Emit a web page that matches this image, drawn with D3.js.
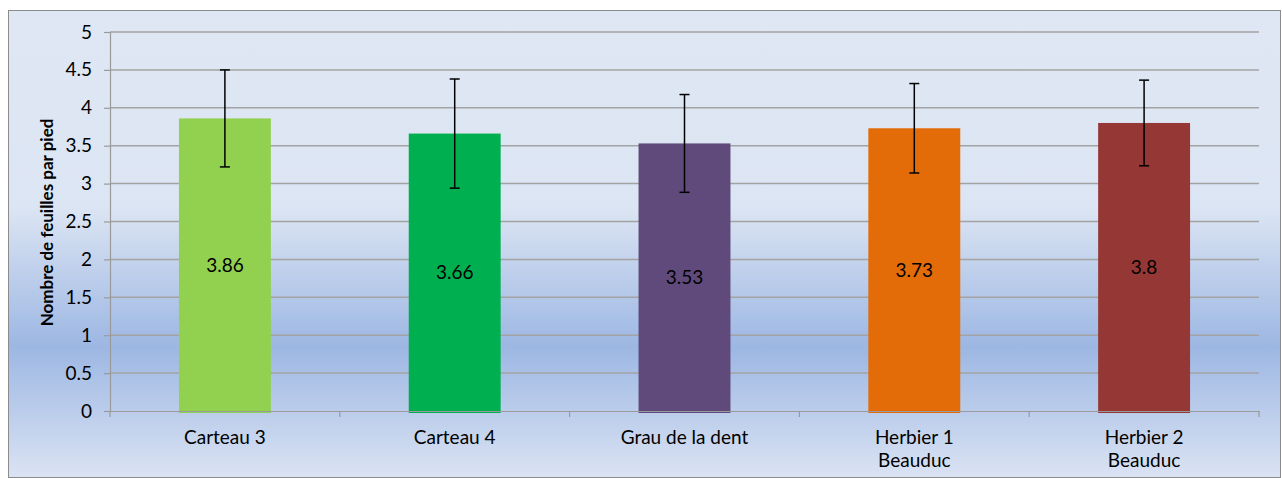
<!DOCTYPE html>
<html>
<head>
<meta charset="utf-8">
<script src="https://cdn.jsdelivr.net/npm/d3@7"></script>
<style>
body { margin: 0; background: #fff; }
text { font-family: Lato, "Open Sans", "Liberation Sans", sans-serif; fill: #000; }
</style>
</head>
<body>
<svg id="chart"></svg>
<script>
// données : nombre de feuilles par pied
const sites = ["Carteau 3", "Carteau 4", "Grau de la dent", "Herbier 1\nBeauduc", "Herbier 2\nBeauduc"];
const moyennes = [3.86, 3.66, 3.53, 3.73, 3.8];
const ecarts = [0.64, 0.72, 0.645, 0.59, 0.565];
const couleurs = ["#92d050", "#00b050", "#604a7b", "#e36c09", "#953735"];
const yTicks = [0, 0.5, 1, 1.5, 2, 2.5, 3, 3.5, 4, 4.5, 5];

const W = 1282, H = 478;
const margin = {top: 32, right: 23, bottom: 67, left: 110};
const width = W - margin.left - margin.right,
      height = H - margin.top - margin.bottom;

const svg = d3.select("#chart").attr("width", W).attr("height", H);

// fond dégradé
const defs = svg.append("defs");
const grad = defs.append("linearGradient").attr("id", "fond")
    .attr("x1", 0).attr("y1", 0).attr("x2", 0).attr("y2", 1);
grad.append("stop").attr("offset", "0%").attr("stop-color", "#dfe7f4");
grad.append("stop").attr("offset", "42%").attr("stop-color", "#dce5f3");
grad.append("stop").attr("offset", "72%").attr("stop-color", "#9db7e3");
grad.append("stop").attr("offset", "100%").attr("stop-color", "#dae3f3");

svg.append("rect")
    .attr("x", 8.5).attr("y", 10.5)
    .attr("width", W - 10).attr("height", H - 11)
    .attr("fill", "url(#fond)")
    .attr("stroke", "#8c8c8c").attr("stroke-width", 1);

const g = svg.append("g").attr("transform", `translate(${margin.left},${margin.top})`);

const x = d3.scaleBand().domain(sites).range([0, width]).paddingInner(0.6).paddingOuter(0.3);
const xCat = d3.scaleBand().domain(sites).range([0, width]);
const y = d3.scaleLinear().domain([0, 5]).range([height, 0]);

// grille
g.selectAll(".grid").data(yTicks.slice(1))
    .enter().append("line")
    .attr("x1", 0).attr("x2", width)
    .attr("y1", d => y(d)).attr("y2", d => y(d))
    .attr("stroke", "#a3a3a3").attr("stroke-width", 1.5);

// axe y
const yAxis = g.append("g")
    .call(d3.axisLeft(y).tickValues(yTicks).tickSize(6).tickPadding(12).tickFormat(d => d));
yAxis.select(".domain").attr("stroke", "#9a9a9a").attr("stroke-width", 1.2);
yAxis.selectAll(".tick line").attr("stroke", "#9a9a9a").attr("stroke-width", 1.2);
yAxis.selectAll("text").style("font-size", "19px").attr("fill", "#000");

// barres
g.selectAll(".bar").data(sites)
    .enter().append("rect")
    .attr("x", d => x(d))
    .attr("y", (d, i) => y(moyennes[i]))
    .attr("width", x.bandwidth())
    .attr("height", (d, i) => y(0) - y(moyennes[i]) + 2)
    .attr("fill", (d, i) => couleurs[i]);

// axe x
const xAxis = g.append("g").attr("transform", `translate(0,${height})`)
    .call(d3.axisBottom(xCat).tickSize(0).tickFormat(""));
xAxis.select(".domain").attr("stroke", "#9a9a9a").attr("stroke-width", 1.2);
g.selectAll(".xtick").data(d3.range(sites.length + 1))
    .enter().append("line")
    .attr("x1", i => i * xCat.step()).attr("x2", i => i * xCat.step())
    .attr("y1", height).attr("y2", height + 6)
    .attr("stroke", "#9a9a9a").attr("stroke-width", 1.2);

// étiquettes des catégories
sites.forEach(s => {
    const t = g.append("text")
        .attr("x", xCat(s) + xCat.bandwidth() / 2)
        .attr("y", height + 33)
        .attr("text-anchor", "middle")
        .style("font-size", "19px");
    s.split("\n").forEach((l, k) => {
        t.append("tspan").attr("x", xCat(s) + xCat.bandwidth() / 2)
            .attr("dy", k === 0 ? 0 : 23).text(l);
    });
});

// barres d'erreur
const eb = g.selectAll(".err").data(sites).enter().append("g");
eb.append("line")
    .attr("x1", d => x(d) + x.bandwidth() / 2).attr("x2", d => x(d) + x.bandwidth() / 2)
    .attr("y1", (d, i) => y(moyennes[i] + ecarts[i]))
    .attr("y2", (d, i) => y(moyennes[i] - ecarts[i]))
    .attr("stroke", "#000").attr("stroke-width", 1.5);
[1, -1].forEach(sgn => {
    eb.append("line")
        .attr("x1", d => x(d) + x.bandwidth() / 2 - 5).attr("x2", d => x(d) + x.bandwidth() / 2 + 5)
        .attr("y1", (d, i) => y(moyennes[i] + sgn * ecarts[i]))
        .attr("y2", (d, i) => y(moyennes[i] + sgn * ecarts[i]))
        .attr("stroke", "#000").attr("stroke-width", 1.5);
});

// valeurs dans les barres
g.selectAll(".val").data(sites)
    .enter().append("text")
    .attr("x", d => x(d) + x.bandwidth() / 2)
    .attr("y", (d, i) => y(moyennes[i] / 2) + 7)
    .attr("text-anchor", "middle")
    .style("font-size", "19px")
    .text((d, i) => moyennes[i]);

// titre axe y
svg.append("text")
    .attr("transform", `translate(53,${margin.top + height / 2 + 1}) rotate(-90)`)
    .attr("text-anchor", "middle")
    .style("font-size", "17px").style("font-weight", "bold")
    .text("Nombre de feuilles par pied");
</script>
</body>
</html>
